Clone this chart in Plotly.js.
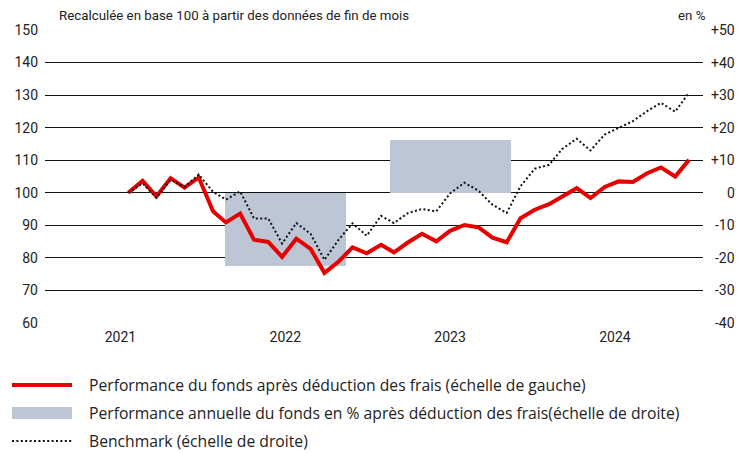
<!DOCTYPE html>
<html><head><meta charset="utf-8">
<script src="https://cdn.plot.ly/plotly-3.0.1.min.js"></script>
<style>html,body{margin:0;padding:0;background:#fff}#chart{width:747px;height:453px}</style>
</head><body><div id="chart"></div>
<script>
// ---------- DATA ----------
const months = [
  "2021-07-31","2021-08-31","2021-09-30","2021-10-31","2021-11-30","2021-12-31",
  "2022-01-31","2022-02-28","2022-03-31","2022-04-30","2022-05-31","2022-06-30",
  "2022-07-31","2022-08-31","2022-09-30","2022-10-31","2022-11-30","2022-12-31",
  "2023-01-31","2023-02-28","2023-03-31","2023-04-30","2023-05-31","2023-06-30",
  "2023-07-31","2023-08-31","2023-09-30","2023-10-31","2023-11-30","2023-12-31",
  "2024-01-31","2024-02-29","2024-03-31","2024-04-30","2024-05-31","2024-06-30",
  "2024-07-31","2024-08-31","2024-09-30","2024-10-31","2024-11-30"
];
const fundValues = [
  100, 103.7, 98.9, 104.5, 101.6, 104.7,
  94.3, 90.9, 93.6, 85.6, 84.9, 80.3,
  85.9, 82.8, 75.4, 78.9, 83.2, 81.4,
  84.0, 81.7, 84.8, 87.4, 85.1, 88.3,
  90.1, 89.4, 86.2, 84.8, 92.2, 94.8,
  96.5, 98.9, 101.4, 98.4, 101.8, 103.5,
  103.3, 106.0, 107.8, 105.0, 110.1
];
const benchmarkValues = [
  0, 2.9, -1.5, 4.0, 1.8, 5.6,
  0.3, -2.1, 0.4, -7.9, -7.9, -15.6,
  -9.3, -12.6, -20.6, -14.4, -9.4, -13.2,
  -7.1, -9.3, -6.2, -5.0, -5.7, -0.2,
  3.1, 0.6, -3.7, -6.2, 2.0, 7.4,
  8.6, 13.5, 16.6, 13.0, 17.9, 19.8,
  22.0, 25.1, 27.6, 24.9, 30.8
];
const annualYears = [2022, 2023];
const annualPerf = [-22.6, 16.3];
const yearTickYears = [2021, 2022, 2023, 2024];
const yearTickLabels = ["2021", "2022", "2023", "2024"];
const leftTicks = [60, 70, 80, 90, 100, 110, 120, 130, 140, 150];
const rightTicks = [-40, -30, -20, -10, 0, 10, 20, 30, 40, 50];
const rightTickLabels = ["-40", "-30", "-20", "-10", "0", "+10", "+20", "+30", "+40", "+50"];
const seriesNames = [
  "Performance du fonds après déduction des frais (échelle de gauche)",
  "Performance annuelle du fonds en % après déduction des frais(échelle de droite)",
  "Benchmark (échelle de droite)"
];
const subtitle = "Recalculée en base 100 à partir des données de fin de mois";
const unitLabel = "en %";

// ---------- LAYOUT GEOMETRY ----------
const W = 747, H = 453, ML = 45, MR = 44, MT = 30, MB = 130;
const PW = W - ML - MR, PH = H - MT - MB;
const px = x => (x - ML) / PW;
const py = y => (H - MB - y) / PH;
const DAY = 864e5;
function yearCenter(y) {
  return new Date(Date.UTC(2021, 6, 14) + (y - 2021) * 358 * DAY).toISOString().slice(0, 10);
}
const FONT = "Roboto, 'Open Sans', sans-serif";
const LFONT = "'Open Sans', Roboto, sans-serif";
const TXT = "#222";
const RED = "#e60000";
const BARC = "#bcc6d4";

const traces = [
  { type: "bar", name: seriesNames[1], x: annualYears.map(yearCenter), y: annualPerf,
    width: 263 * DAY, marker: { color: BARC, line: { width: 0 } },
    xaxis: "x", yaxis: "y", hoverinfo: "skip" },
  { type: "scatter", mode: "lines", name: seriesNames[0], x: months, y: fundValues,
    line: { color: RED, width: 4 }, xaxis: "x", yaxis: "y2" },
  { type: "scatter", mode: "lines", name: seriesNames[2], x: months, y: benchmarkValues,
    line: { color: "#111", width: 2, dash: "2px,2.4px" }, xaxis: "x", yaxis: "y3" }
];

const annotations = [
  { xref: "paper", yref: "paper", x: px(57), y: py(16), xanchor: "left", yanchor: "middle",
    text: subtitle, showarrow: false, font: { family: FONT, size: 13.3, color: TXT } },
  { xref: "paper", yref: "paper", x: px(708), y: py(16), xanchor: "right", yanchor: "middle",
    text: unitLabel, showarrow: false, font: { family: FONT, size: 13.3, color: TXT } }
];
rightTicks.forEach((v, i) => annotations.push({
  xref: "paper", yref: "y", x: 1, xshift: 34, y: v, xanchor: "right", yanchor: "middle",
  text: rightTickLabels[i], showarrow: false, font: { family: FONT, size: 14, color: TXT }
}));
const legendRowsY = [385, 413, 441];
seriesNames.forEach((n, i) => annotations.push({
  xref: "paper", yref: "paper", x: px(87), y: py(legendRowsY[i]), xanchor: "left", yanchor: "middle",
  text: n, showarrow: false, font: { family: LFONT, size: 15.7, color: TXT }
}));

const shapes = [
  { type: "line", xref: "paper", yref: "paper", x0: px(12), x1: px(72), y0: py(385), y1: py(385),
    line: { color: RED, width: 4 } },
  { type: "rect", xref: "paper", yref: "paper", x0: px(12), x1: px(72), y0: py(407), y1: py(419),
    fillcolor: BARC, line: { width: 0 } },
  { type: "line", xref: "paper", yref: "paper", x0: px(12), x1: px(72), y0: py(441), y1: py(441),
    line: { color: "#111", width: 2, dash: "2px,2.4px" } }
];

const layout = {
  width: W, height: H,
  margin: { l: ML, r: MR, t: MT, b: MB, pad: 0 },
  paper_bgcolor: "#fff", plot_bgcolor: "#fff",
  showlegend: false, bargap: 0,
  font: { family: FONT, size: 14, color: TXT },
  xaxis: {
    type: "date", range: ["2021-01-31", "2024-12-30 10:00"],
    tickvals: yearTickYears.map(yearCenter), ticktext: yearTickLabels,
    showgrid: false, zeroline: false, showline: false, ticks: "",
    ticklabelstandoff: 4, tickfont: { family: FONT, size: 14, color: TXT }
  },
  yaxis: {
    range: [-40, 50], side: "right", showgrid: false, zeroline: false,
    showticklabels: false, ticks: "", showline: false
  },
  yaxis2: {
    range: [60, 150], overlaying: "y", side: "left",
    tickvals: leftTicks, showgrid: true, gridcolor: "#111", gridwidth: 1,
    zeroline: false, showline: false, ticks: "", ticklabelstandoff: 6,
    tickfont: { family: FONT, size: 14, color: TXT }
  },
  yaxis3: {
    range: [-40, 50], overlaying: "y", side: "right", visible: false
  },
  annotations: annotations,
  shapes: shapes
};

Plotly.newPlot("chart", traces, layout, { displayModeBar: false, staticPlot: true });
</script>
</body></html>
